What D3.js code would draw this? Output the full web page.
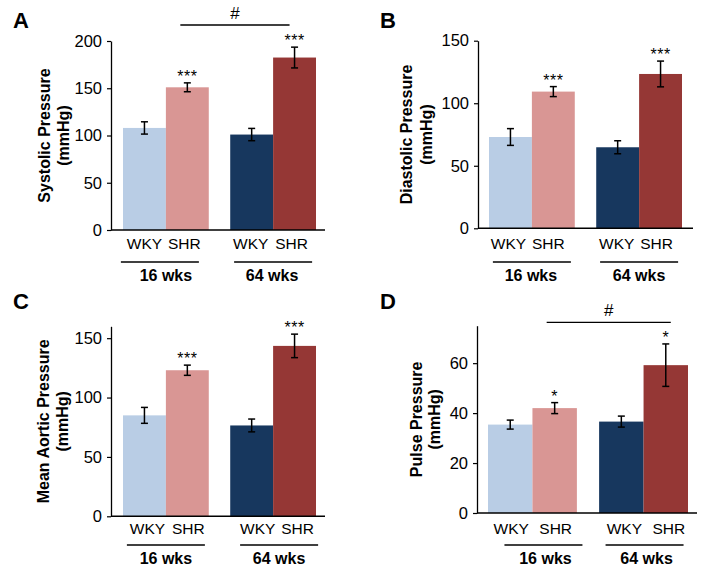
<!DOCTYPE html>
<html>
<head>
<meta charset="utf-8">
<script src="https://cdn.jsdelivr.net/npm/d3@7"></script>
<style>
  html, body { margin: 0; padding: 0; background: #fff; }
  svg { display: block; font-family: "Liberation Sans", Arial, sans-serif; }
</style>
</head>
<body>
<svg id="chart" width="708" height="573"></svg>
<script>
// ---------- data ----------
const groups = ["16 wks", "64 wks"];
const strains = ["WKY", "SHR"];
const barColors = ["#B9CDE5", "#D99694", "#17375E", "#953735"];

const systolicValues  = [108, 151, 101, 182.5];
const systolicErrors  = [6.5, 4.7, 6.5, 11];
const systolicSig     = ["", "***", "", "***"];
const systolicTicks   = [0, 50, 100, 150, 200];

const diastolicValues = [73, 109.3, 64.8, 123.4];
const diastolicErrors = [6.7, 4, 5.2, 10.3];
const diastolicSig    = ["", "***", "", "***"];
const diastolicTicks  = [0, 50, 100, 150];

const meanValues      = [85, 123, 76.5, 143.5];
const meanErrors      = [6.7, 4.3, 5.4, 9.9];
const meanSig         = ["", "***", "", "***"];
const meanTicks       = [0, 50, 100, 150];

const pulseValues     = [35.4, 42, 36.6, 59.2];
const pulseErrors     = [1.8, 2.2, 2.2, 8.5];
const pulseSig        = ["", "*", "", "*"];
const pulseTicks      = [0, 20, 40, 60];

const panelLetters = ["A", "B", "C", "D"];
const yTitles = [
  ["Systolic Pressure", "(mmHg)"],
  ["Diastolic Pressure", "(mmHg)"],
  ["Mean Aortic Pressure", "(mmHg)"],
  ["Pulse Pressure", "(mmHg)"]
];
const hashLabel = "#";

// ---------- layout ----------
const panels = [
  { letter: panelLetters[0], values: systolicValues, errors: systolicErrors, sig: systolicSig, ticks: systolicTicks, yMax: 200, title: yTitles[0],
    axisX: 111, xEnd: 325, yTop: 41, yBottom: 230, bars: [123, 316], letterX: 13, letterY: 28,
    titleX: [-67, -48], labelY: 238, lineY: 262, grpY: 281, lineOff: [-6, 0], grpOff: [0, -1], labOff: [0, -3, -1, -3],
    hash: { y: 25, x0off: -7, x1off: -5 } },
  { letter: panelLetters[1], values: diastolicValues, errors: diastolicErrors, sig: diastolicSig, ticks: diastolicTicks, yMax: 150, title: yTitles[1],
    axisX: 478, xEnd: 693, yTop: 40.7, yBottom: 228.3, bars: [489, 682], letterX: 380, letterY: 28,
    titleX: [-72, -52], labelY: 238, lineY: 262, grpY: 281, lineOff: [0, 0], grpOff: [-1, 0], labOff: [-2, -5, -1, -4],
    hash: null },
  { letter: panelLetters[2], values: meanValues, errors: meanErrors, sig: meanSig, ticks: meanTicks, yMax: 160, title: yTitles[2],
    axisX: 111, xEnd: 325, yTop: 326.3, yBottom: 516.3, bars: [123, 316], letterX: 13, letterY: 309,
    titleX: [-68, -49], labelY: 523, lineY: 545, grpY: 564, lineOff: [0, 6], grpOff: [0, 6], labOff: [3, 1, 6, 3],
    hash: null },
  { letter: panelLetters[3], values: pulseValues, errors: pulseErrors, sig: pulseSig, ticks: pulseTicks, yMax: 75, title: yTitles[3],
    axisX: 477, xEnd: 697, yTop: 325.7, yBottom: 513, bars: [488, 688], letterX: 380, letterY: 309,
    titleX: [-61, -43], labelY: 523, lineY: 545, grpY: 564, lineOff: [11, 1], grpOff: [13, 3], labOff: [1, 1, 3, 3],
    hash: { y: 322.3, x0off: -8, x1off: 5 } }
];

const svg = d3.select("#chart");
const FONT = "'Liberation Sans', Arial, sans-serif";

panels.forEach(p => {
  const g = svg.append("g");

  const y = d3.scaleLinear().domain([0, p.yMax]).range([p.yBottom, p.yTop]);
  const xg = d3.scaleBand().domain(groups).range(p.bars).paddingInner(0.2).paddingOuter(0);
  const xs = d3.scaleBand().domain(strains).range([0, xg.bandwidth()]).padding(0);

  const rows = [];
  groups.forEach((gr, gi) => strains.forEach((st, si) => {
    const i = gi * 2 + si;
    rows.push({ group: gr, strain: st, v: p.values[i], e: p.errors[i], sig: p.sig[i], color: barColors[i],
      x: xg(gr) + xs(st), w: xs.bandwidth(), i });
  }));

  // bars
  g.selectAll("rect.bar").data(rows).enter().append("rect")
    .attr("x", d => d.x).attr("width", d => d.w)
    .attr("y", d => y(d.v)).attr("height", d => y(0) - y(d.v))
    .attr("fill", d => d.color);

  // y axis
  const yAxis = d3.axisLeft(y).tickValues(p.ticks).tickSize(4).tickPadding(5).tickSizeOuter(0);
  const ya = g.append("g").attr("transform", `translate(${p.axisX},0)`).call(yAxis);
  ya.select(".domain").attr("stroke", "#000").attr("stroke-width", 1.3);
  ya.selectAll(".tick line").attr("stroke", "#000").attr("stroke-width", 1.2);
  ya.selectAll(".tick text").attr("font-size", 16.5).attr("font-family", FONT).attr("fill", "#000");

  // x axis line
  g.append("line").attr("x1", p.axisX).attr("x2", p.xEnd).attr("y1", y(0)).attr("y2", y(0))
    .attr("stroke", "#000").attr("stroke-width", 1.5);

  // error bars
  rows.forEach(d => {
    const cx = d.x + d.w / 2;
    const y1 = y(d.v + d.e), y2 = y(d.v - d.e);
    g.append("line").attr("x1", cx).attr("x2", cx).attr("y1", y1).attr("y2", y2).attr("stroke", "#000").attr("stroke-width", 1.5);
    [y1, y2].forEach(yy => g.append("line").attr("x1", cx - 3.5).attr("x2", cx + 3.5).attr("y1", yy).attr("y2", yy)
      .attr("stroke", "#000").attr("stroke-width", 1.5));
    if (d.sig) {
      g.append("text").attr("x", cx).attr("y", y1 - 1).attr("text-anchor", "middle")
        .attr("font-size", 16).attr("letter-spacing", 0.5).attr("font-family", FONT).attr("fill", "#000").text(d.sig);
    }
  });

  // strain labels
  rows.forEach(d => {
    g.append("text").attr("x", d.x + d.w / 2 + p.labOff[d.i]).attr("y", p.labelY).attr("dy", "0.71em")
      .attr("text-anchor", "middle").attr("font-size", 15.5).attr("font-family", FONT).attr("fill", "#000").text(d.strain);
  });

  // group lines & labels
  groups.forEach((gr, gi) => {
    const c = xg(gr) + xg.bandwidth() / 2;
    const lc = c + p.lineOff[gi];
    g.append("line").attr("x1", lc - 39).attr("x2", lc + 39).attr("y1", p.lineY).attr("y2", p.lineY)
      .attr("stroke", "#000").attr("stroke-width", 1.3);
    g.append("text").attr("x", c + p.grpOff[gi]).attr("y", p.grpY).attr("text-anchor", "middle")
      .attr("font-size", 16).attr("font-weight", "bold").attr("font-family", FONT).attr("fill", "#000").text(gr);
  });

  // y title
  const cy = (p.yTop + p.yBottom) / 2;
  p.title.forEach((t, k) => {
    g.append("text").attr("transform", `translate(${p.axisX + p.titleX[k]},${cy}) rotate(-90)`)
      .attr("text-anchor", "middle").attr("dy", "0.36em").attr("font-size", 16).attr("font-weight", "bold")
      .attr("font-family", FONT).attr("fill", "#000").text(t);
  });

  // panel letter
  g.append("text").attr("x", p.letterX).attr("y", p.letterY).attr("font-size", 22).attr("font-weight", "bold")
    .attr("font-family", FONT).attr("fill", "#000").text(p.letter);

  // hash bracket
  if (p.hash) {
    const shr16 = rows[1], shr64 = rows[3];
    const x0 = shr16.x + shr16.w / 2 + p.hash.x0off;
    const x1 = shr64.x + shr64.w / 2 + p.hash.x1off;
    g.append("line").attr("x1", x0).attr("x2", x1).attr("y1", p.hash.y).attr("y2", p.hash.y)
      .attr("stroke", "#000").attr("stroke-width", 1.3);
    g.append("text").attr("x", (x0 + x1) / 2).attr("y", p.hash.y - 6).attr("text-anchor", "middle")
      .attr("font-size", 17).attr("font-family", FONT).attr("fill", "#000").text(hashLabel);
  }
});
</script>
</body>
</html>
